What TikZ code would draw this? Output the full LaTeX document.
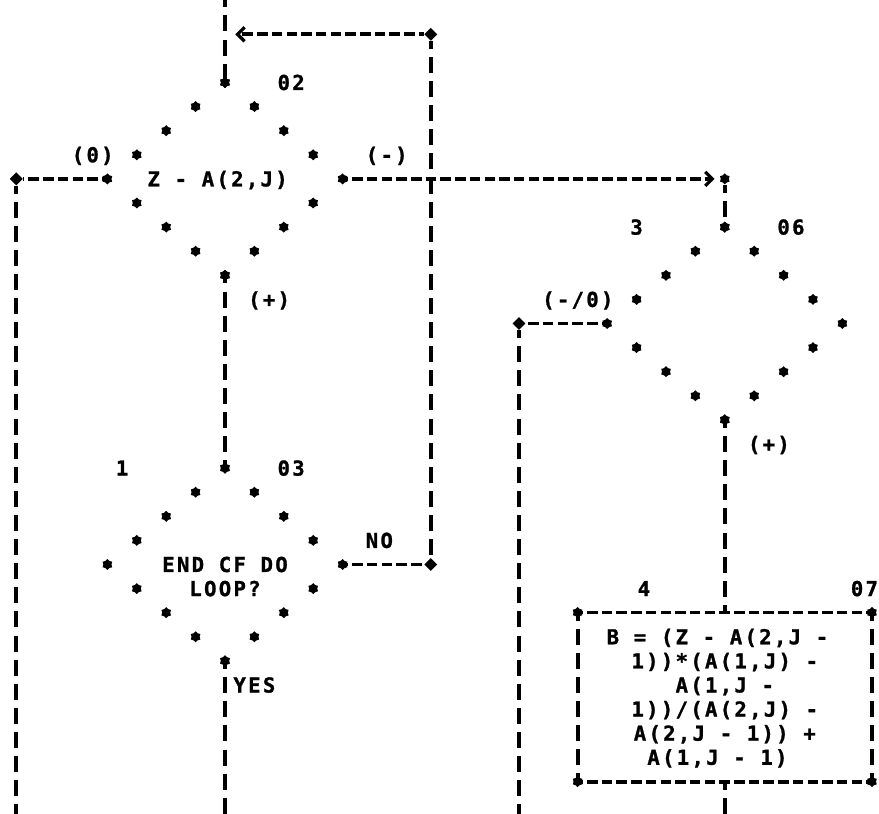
\documentclass[tikz,border=0pt]{standalone}
\usepackage{fontspec}
\newfontfamily\lpfont{DejaVu Sans Mono}[LetterSpace=11.2, BoldFeatures={FakeBold=1.2}]
\usetikzlibrary{shapes.geometric,arrows.meta}
\tikzset{
  ast/.style={star, star points=6, star point ratio=1.35, fill=black, draw=none, inner sep=0pt, minimum size=11pt},
  plus/.style={diamond, fill=black, draw=none, inner sep=0pt, minimum size=13pt},
  dgm/.style={diamond, draw=none, inner sep=0pt, minimum width=235.2pt, minimum height=192.8pt},
  hline/.style={line width=3.8pt, dash pattern=on 10.5pt off 4.2pt, dash phase=5.25pt},
  vline/.style={line width=3.8pt, dash pattern=on 16pt off 8.1pt, dash phase=8pt},
  lbl/.style={font=\lpfont\bfseries\fontsize{20.6pt}{24.1pt}\selectfont, inner sep=0pt, text height=15pt, text depth=0pt},
  barb/.style={-{Straight Barb[length=7pt,width=14pt,line width=3.2pt]}},
}
\begin{document}
\begin{tikzpicture}[x=14.7pt,y=-24.1pt]
  \useasboundingbox (-0.306,-0.423) rectangle (59.49,33.35);
  % decision boxes drawn as rings of stars
  \foreach \d/\cx/\cy in {q02/15/7, q03/15/23, q06/49/13}{
    \node[dgm] (\d) at (\cx,\cy) {};
    \foreach \r in {-4,...,4}{
      \pgfmathsetmacro\xl{\cx-2*(4-abs(\r))}
      \pgfmathsetmacro\xr{\cx+2*(4-abs(\r))}
      \pgfmathsetmacro\yy{\cy+\r}
      \node[ast] (\d-l\r) at (\xl,\yy) {};
      \node[ast] (\d-r\r) at (\xr,\yy) {};
    }
  }
  % process box 07
  \node[draw=none, inner sep=0pt, minimum width=294pt, minimum height=168.7pt] (b07) at (49,28.5) {};
  \draw[hline] (b07.north west) -- (b07.north east);
  \draw[hline] (b07.south west) -- (b07.south east);
  \draw[vline] (b07.north west) -- (b07.south west);
  \draw[vline] (b07.north east) -- (b07.south east);
  \foreach \a/\n in {north west/nw, north east/ne, south west/sw, south east/se}
    \node[ast] (b07-\n) at (b07.\a) {};

  % junctions and free ends
  \node[plus] (j1) at (29,1) {};
  \node[plus] (j2) at (0.8,7) {};
  \node[plus] (j3) at (35,13) {};
  \node[plus] (j4) at (29,23) {};
  \node[ast] (s7) at (49,7) {};
  \coordinate (top) at (15,-0.45);
  \coordinate (in02) at (15.7,1);
  \coordinate (e1) at (0.8,33.4);
  \coordinate (e2) at (15,33.4);
  \coordinate (e3) at (35,33.4);
  \coordinate (e4) at (49,33.4);

  % connectors
  \draw[vline] (top) -- (q02.north);
  \draw[hline,barb] (j1) -- (in02);
  \draw[vline] (j1) -- (j4);
  \draw[hline] (q03.east) -- (j4);
  \draw[hline] (q02.west) -- (j2);
  \draw[vline] (j2) -- (e1);
  \draw[hline,barb,shorten >=6pt] (q02.east) -- (s7);
  \draw[vline] (q02.south) -- (q03.north);
  \draw[vline] (q03.south) -- (e2);
  \draw[vline] (s7) -- (q06.north);
  \draw[hline] (q06.west) -- (j3);
  \draw[vline] (j3) -- (e3);
  \draw[vline] (q06.south) -- (b07.north);
  \draw[vline] (b07.south) -- (e4);

  % texts
  \node[lbl] (t02) at (19.5,3) {02};
  \node[lbl] (t02z) at (6,6) {(0)};
  \node[lbl] (t02m) at (26,6) {(-)};
  \node[lbl] (x02) at (14.5,7) {Z - A(2,J)};
  \node[lbl] (t02p) at (18,12) {(+)};
  \node[lbl] (n03) at (8,19) {1};
  \node[lbl] (t03) at (19.5,19) {03};
  \node[lbl] (t03n) at (25.5,22) {NO};
  \node[lbl] (x03a) at (15,23) {END CF DO};
  \node[lbl] (x03b) at (15,24) {LOOP?};
  \node[lbl] (t03y) at (17,28) {YES};
  \node[lbl] (n06) at (43,9) {3};
  \node[lbl] (t06) at (53.5,9) {06};
  \node[lbl] (t06m) at (39,12) {(-/0)};
  \node[lbl] (t06p) at (52,18) {(+)};
  \node[lbl] (n07) at (43.5,24) {4};
  \node[lbl] (t07) at (58.5,24) {07};
  \node[lbl] (x07a) at (48.5,26) {B = (Z - A(2,J -};
  \node[lbl] (x07b) at (49,27) {1))*(A(1,J) -};
  \node[lbl] (x07c) at (49,28) {A(1,J -};
  \node[lbl] (x07d) at (49,29) {1))/(A(2,J) -};
  \node[lbl] (x07e) at (49,30) {A(2,J - 1)) +};
  \node[lbl] (x07f) at (48.5,31) {A(1,J - 1)};
\end{tikzpicture}
\end{document}
